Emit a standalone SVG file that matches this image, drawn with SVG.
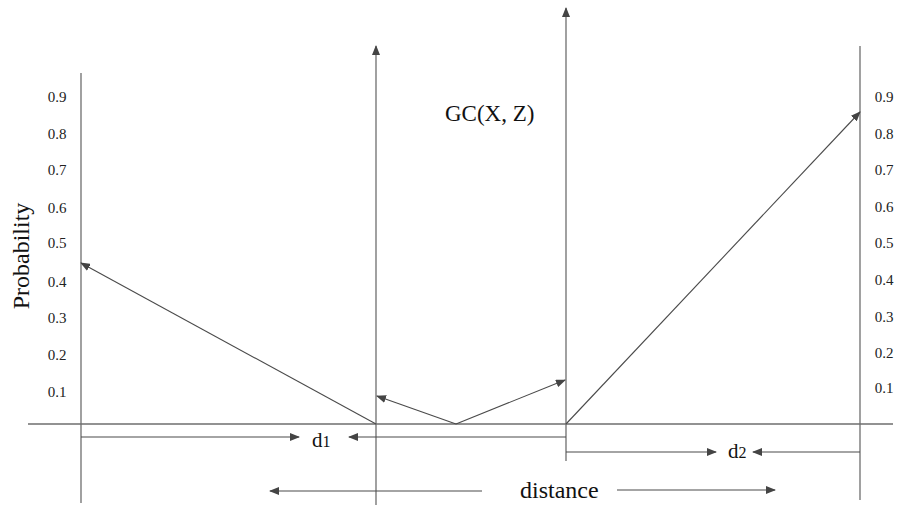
<svg xmlns="http://www.w3.org/2000/svg" width="905" height="505" viewBox="0 0 905 505">
<style>
.ax{stroke:#6e6e6e;stroke-width:1.3;fill:none}
.ln{stroke:#4a4a4a;stroke-width:1.1;fill:none}
.t{font-family:'Liberation Serif','Times New Roman','DejaVu Serif',serif;fill:#111}
.tk{font-family:'Liberation Serif','Times New Roman','DejaVu Serif',serif;font-size:15px;fill:#222}
</style>
<defs>
<marker id="ah" markerWidth="10" markerHeight="8" refX="9" refY="4" orient="auto" markerUnits="userSpaceOnUse">
<path d="M0,0 L10,4 L0,8 Z" fill="#444"/>
</marker>
</defs>
<rect width="905" height="505" fill="#fff"/>
<g id="axes">
<line class="ax" x1="28" y1="424" x2="893" y2="424"/>
<line class="ax" x1="81" y1="73" x2="81" y2="503"/>
<line class="ax" x1="860" y1="46" x2="860" y2="500"/>
<line class="ax" x1="376" y1="505" x2="376" y2="46" marker-end="url(#ah)"/>
<line class="ax" x1="566" y1="461" x2="566" y2="8" marker-end="url(#ah)"/>
</g>
<g id="left-ticks" class="tk" text-anchor="middle">
<text x="57" y="102">0.9</text>
<text x="57" y="139">0.8</text>
<text x="57" y="175">0.7</text>
<text x="57" y="213">0.6</text>
<text x="57" y="248">0.5</text>
<text x="57" y="287">0.4</text>
<text x="57" y="323">0.3</text>
<text x="57" y="360">0.2</text>
<text x="57" y="397">0.1</text>
</g>
<g id="right-ticks" class="tk" text-anchor="middle">
<text x="884" y="102">0.9</text>
<text x="884" y="139">0.8</text>
<text x="884" y="175">0.7</text>
<text x="884" y="212">0.6</text>
<text x="884" y="248">0.5</text>
<text x="884" y="285">0.4</text>
<text x="884" y="322">0.3</text>
<text x="884" y="358">0.2</text>
<text x="884" y="393">0.1</text>
</g>
<text id="ylabel" class="t" font-size="24" text-anchor="middle" transform="translate(29,256) rotate(-90)">Probability</text>
<text id="gc" class="t" font-size="23" x="445" y="121">GC(X, Z)</text>
<g id="connectors">
<line class="ln" x1="376" y1="424" x2="81" y2="263" marker-end="url(#ah)"/>
<line class="ln" x1="566" y1="424" x2="860" y2="112" marker-end="url(#ah)"/>
<line class="ln" x1="456" y1="424" x2="377" y2="396" marker-end="url(#ah)"/>
<line class="ln" x1="456" y1="424" x2="565" y2="380" marker-end="url(#ah)"/>
<line class="ln" x1="81" y1="437" x2="299" y2="437" marker-end="url(#ah)"/>
<line class="ln" x1="566" y1="437" x2="349" y2="437" marker-end="url(#ah)"/>
<line class="ln" x1="566" y1="452" x2="716" y2="452" marker-end="url(#ah)"/>
<line class="ln" x1="860" y1="452" x2="753" y2="452" marker-end="url(#ah)"/>
<line class="ln" x1="482" y1="491" x2="270" y2="491" marker-end="url(#ah)"/>
<line class="ln" x1="617" y1="490" x2="775" y2="490" marker-end="url(#ah)"/>
</g>
<text id="d1" class="t" font-size="21" x="312" y="447">d<tspan font-size="16">1</tspan></text>
<text id="d2" class="t" font-size="21" x="728" y="458">d<tspan font-size="16">2</tspan></text>
<text id="distance" class="t" font-size="24" x="520" y="498">distance</text>
</svg>
